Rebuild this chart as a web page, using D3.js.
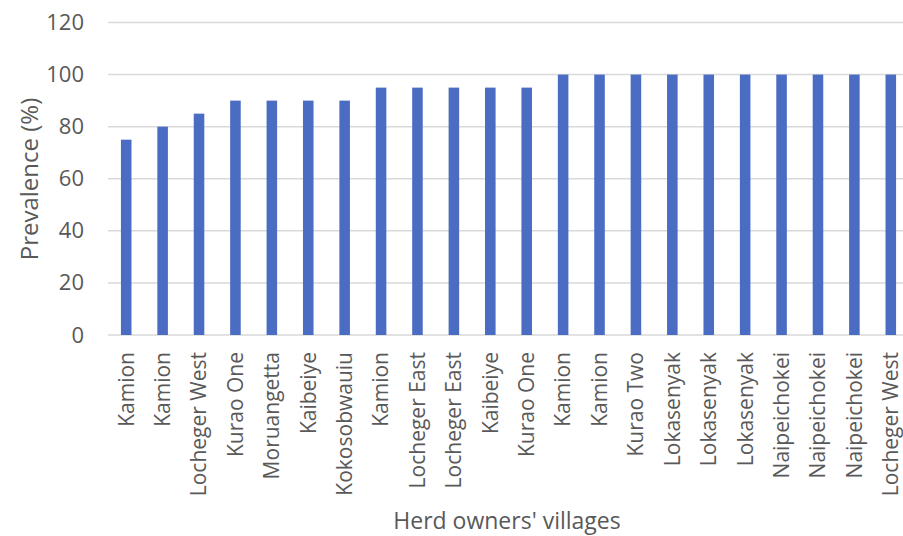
<!DOCTYPE html>
<html>
<head>
<meta charset="utf-8">
<script src="https://cdn.jsdelivr.net/npm/d3@7"></script>
<style>
  body { margin: 0; background: #fff; }
  svg text { font-family: "Open Sans", sans-serif; fill: #595959; }
</style>
</head>
<body>
<div id="chart"></div>
<script>
var villages = ["Kamion", "Kamion", "Locheger West", "Kurao One", "Moruangetta", "Kaibeiye",
                "Kokosobwauiu", "Kamion", "Locheger East", "Locheger East", "Kaibeiye", "Kurao One",
                "Kamion", "Kamion", "Kurao Two", "Lokasenyak", "Lokasenyak", "Lokasenyak",
                "Naipeichokei", "Naipeichokei", "Naipeichokei", "Locheger West"];
var prevalence = [75, 80, 85, 90, 90, 90, 90, 95, 95, 95, 95, 95,
                  100, 100, 100, 100, 100, 100, 100, 100, 100, 100];
var yTicks = [0, 20, 40, 60, 80, 100, 120];

var width = 903, height = 536;
var plotLeft = 108, plotRight = 909, plotTop = 22.5, plotBottom = 335;

var svg = d3.select("#chart")
            .append("svg")
            .attr("width", width)
            .attr("height", height);

var x = d3.scaleBand()
          .domain(d3.range(villages.length))
          .range([plotLeft, plotRight])
          .paddingInner(0.71)
          .paddingOuter(0.355);

var y = d3.scaleLinear()
          .domain([0, 120])
          .range([plotBottom, plotTop]);

// 격자선
svg.selectAll("line.grid")
   .data(yTicks)
   .enter()
   .append("line")
   .attr("x1", plotLeft)
   .attr("x2", width)
   .attr("y1", function(d) { return y(d); })
   .attr("y2", function(d) { return y(d); })
   .style("stroke", "#d9d9d9")
   .attr("stroke-width", "1.5px");

// 막대
svg.selectAll("rect.bar")
   .data(prevalence)
   .enter()
   .append("rect")
   .attr("x", function(d, i) { return x(i); })
   .attr("y", function(d) { return y(d); })
   .attr("width", x.bandwidth())
   .attr("height", function(d) { return y(0) - y(d); })
   .attr("fill", "#4a6cc2");

// y축
var yAxis = svg.append("g")
   .attr("transform", "translate(" + (plotLeft - 16) + ",0)")
   .call(d3.axisLeft(y).tickValues(yTicks).tickSize(0).tickPadding(8));
yAxis.select(".domain").remove();
yAxis.selectAll("text").style("font-size", "22px");

// x축
var xAxis = svg.append("g")
   .attr("transform", "translate(0," + plotBottom + ")")
   .call(d3.axisBottom(x).tickFormat(function(i) { return villages[i]; }).tickSize(0));
xAxis.select(".domain").remove();
xAxis.selectAll("text")
     .style("font-size", "21px")
     .attr("text-anchor", "end")
     .attr("transform", "rotate(-90)")
     .attr("x", -17)
     .attr("y", 0)
     .attr("dy", "0.35em");

// 축 제목
svg.append("text")
   .attr("x", 507)
   .attr("y", 529)
   .attr("text-anchor", "middle")
   .style("font-size", "23px")
   .text("Herd owners' villages");

svg.append("text")
   .attr("transform", "translate(38,179) rotate(-90)")
   .attr("text-anchor", "middle")
   .style("font-size", "24px")
   .text("Prevalence (%)");
</script>
</body>
</html>
